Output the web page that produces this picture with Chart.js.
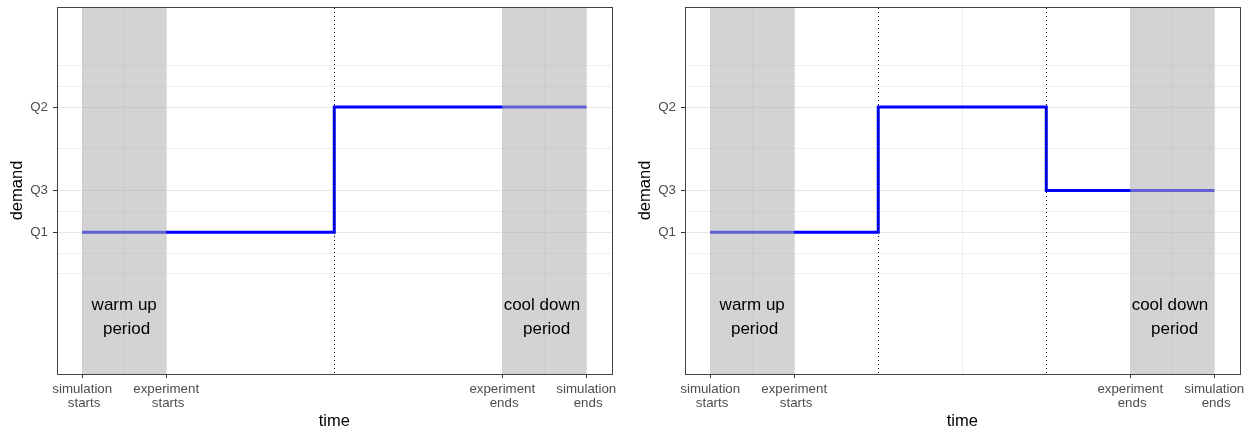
<!DOCTYPE html>
<html>
<head>
<meta charset="utf-8">
<script src="https://cdn.jsdelivr.net/npm/chart.js@4/dist/chart.umd.min.js"></script>
<style>
  html, body { margin: 0; padding: 0; background: #fff; overflow: hidden; width: 1254px; height: 433px; }
  .panel { position: absolute; top: 0; width: 627px; height: 433px; }
</style>
</head>
<body>
<div class="panel" style="left:0px"><canvas id="c1" width="627" height="433"></canvas></div>
<div class="panel" style="left:628px"><canvas id="c2" width="627" height="433"></canvas></div>
<script>
// ---- data ----
const yTickValues = [6, 8, 12];
const yTickLabels = ['Q1', 'Q3', 'Q2'];
const yMinorValues = [4, 5, 7, 10, 13, 14];
const xTickValues = [0, 1, 5, 6];
const xTickLabels = [['simulation', ' starts'], ['experiment', ' starts'], ['experiment', ' ends'], ['simulation', ' ends']];
const xMinorValues = [0.5, 3, 5.5];
const leftTimes = [0, 3, 6];
const leftDemand = [6, 12, 12];
const rightTimes = [0, 2, 4, 6];
const rightDemand = [6, 12, 8, 8];
const leftChangeTimes = [3];
const rightChangeTimes = [2, 4];
const bandStarts = [0, 5];
const bandEnds = [1, 6];
const bandLabelX = [0.5, 5.5];
const bandLabelY = 2;
const bandLabels = [['warm up', ' period'], ['cool down ', ' period']];
const xLimits = [-0.3, 6.3];
const yLimits = [-0.8, 16.8];

const FONT = '"Liberation Sans", Arial, Helvetica, sans-serif';

function zeroPad(scale) {
  scale.paddingTop = 0; scale.paddingBottom = 0;
  scale.paddingLeft = 0; scale.paddingRight = 0;
}

function overlayPlugin(changeTimes) {
  return {
    id: 'overlay',
    afterDatasetsDraw(chart) {
      const ctx = chart.ctx;
      const xs = chart.scales.x, ys = chart.scales.y;
      const a = chart.chartArea;
      ctx.save();
      // shaded bands (drawn over the line, semi-transparent)
      ctx.fillStyle = 'rgba(175,175,175,0.55)';
      for (let i = 0; i < bandStarts.length; i++) {
        const x0 = xs.getPixelForValue(bandStarts[i]);
        const x1 = xs.getPixelForValue(bandEnds[i]);
        ctx.fillRect(x0, a.top, x1 - x0, a.bottom - a.top);
      }
      // dotted change lines
      ctx.strokeStyle = '#000';
      ctx.lineWidth = 1;
      ctx.setLineDash([1, 3]);
      for (const t of changeTimes) {
        const x = Math.round(xs.getPixelForValue(t)) + 0.5;
        ctx.beginPath();
        ctx.moveTo(x, a.top + 1);
        ctx.lineTo(x, a.bottom);
        ctx.stroke();
      }
      ctx.setLineDash([]);
      // band labels
      ctx.fillStyle = '#000';
      ctx.font = '17px ' + FONT;
      ctx.textAlign = 'center';
      ctx.textBaseline = 'alphabetic';
      for (let i = 0; i < bandLabels.length; i++) {
        const x = xs.getPixelForValue(bandLabelX[i]);
        const y = ys.getPixelForValue(bandLabelY);
        ctx.fillText(bandLabels[i][0], x, y - 5.6);
        ctx.fillText(bandLabels[i][1], x, y + 18.8);
      }
      // panel border
      ctx.strokeStyle = '#444';
      ctx.lineWidth = 1;
      ctx.strokeRect(Math.round(a.left) + 0.5, Math.round(a.top) + 0.5,
                     Math.round(a.right) - Math.round(a.left), Math.round(a.bottom) - Math.round(a.top));
      ctx.restore();
    }
  };
}

function makeChart(id, times, demand, changeTimes) {
  const pts = times.map((t, i) => ({ x: t, y: demand[i] }));
  return new Chart(document.getElementById(id), {
    type: 'line',
    data: {
      datasets: [{
        data: pts,
        borderColor: '#0000FF',
        borderWidth: 3,
        pointRadius: 0,
        stepped: true,
        fill: false,
        borderCapStyle: 'butt',
        borderJoinStyle: 'miter'
      }]
    },
    options: {
      responsive: false,
      animation: false,
      devicePixelRatio: 1,
      layout: { padding: { left: 0, right: 15.5, top: 7, bottom: 0 } },
      plugins: { legend: { display: false }, tooltip: { enabled: false } },
      scales: {
        x: {
          type: 'linear',
          min: xLimits[0], max: xLimits[1],
          afterBuildTicks(scale) {
            scale.ticks = xTickValues.concat(xMinorValues).sort((a, b) => a - b).map(v => ({ value: v }));
          },
          afterFit(scale) { scale.height = 59; zeroPad(scale); },
          ticks: {
            autoSkip: false, maxRotation: 0, minRotation: 0,
            color: '#4D4D4D', padding: 4,
            font: { family: FONT, size: 13.3, lineHeight: 1.05 },
            callback(v) {
              const i = xTickValues.indexOf(v);
              return i >= 0 ? xTickLabels[i] : '';
            }
          },
          grid: {
            color: c => xTickValues.includes(c.tick.value) ? '#E6E6E6' : '#EFEFEF',
            lineWidth: 1,
            tickLength: 4,
            tickColor: c => xTickValues.includes(c.tick.value) ? '#333333' : 'rgba(0,0,0,0)',
            tickWidth: 1
          },
          border: { display: false },
          title: {
            display: true, text: 'time', color: '#000',
            font: { family: FONT, size: 16.5, lineHeight: 1.2 },
            padding: { top: 0, bottom: 1.2 }
          }
        },
        y: {
          type: 'linear',
          min: yLimits[0], max: yLimits[1],
          afterBuildTicks(scale) {
            scale.ticks = yTickValues.concat(yMinorValues).sort((a, b) => a - b).map(v => ({ value: v }));
          },
          afterFit(scale) { scale.width = 57; zeroPad(scale); },
          ticks: {
            autoSkip: false,
            color: '#4D4D4D', padding: 5,
            font: { family: FONT, size: 13.3 },
            callback(v) {
              const i = yTickValues.indexOf(v);
              return i >= 0 ? yTickLabels[i] : '';
            }
          },
          grid: {
            color: c => yTickValues.includes(c.tick.value) ? '#E6E6E6' : '#EFEFEF',
            lineWidth: 1,
            tickLength: 4,
            tickColor: c => yTickValues.includes(c.tick.value) ? '#333333' : 'rgba(0,0,0,0)',
            tickWidth: 1
          },
          border: { display: false },
          title: {
            display: true, text: 'demand', color: '#000',
            font: { family: FONT, size: 16.5, lineHeight: 1.2 },
            padding: { top: 7.3, bottom: 0 }
          }
        }
      }
    },
    plugins: [overlayPlugin(changeTimes)]
  });
}

makeChart('c1', leftTimes, leftDemand, leftChangeTimes);
makeChart('c2', rightTimes, rightDemand, rightChangeTimes);
</script>
</body>
</html>
